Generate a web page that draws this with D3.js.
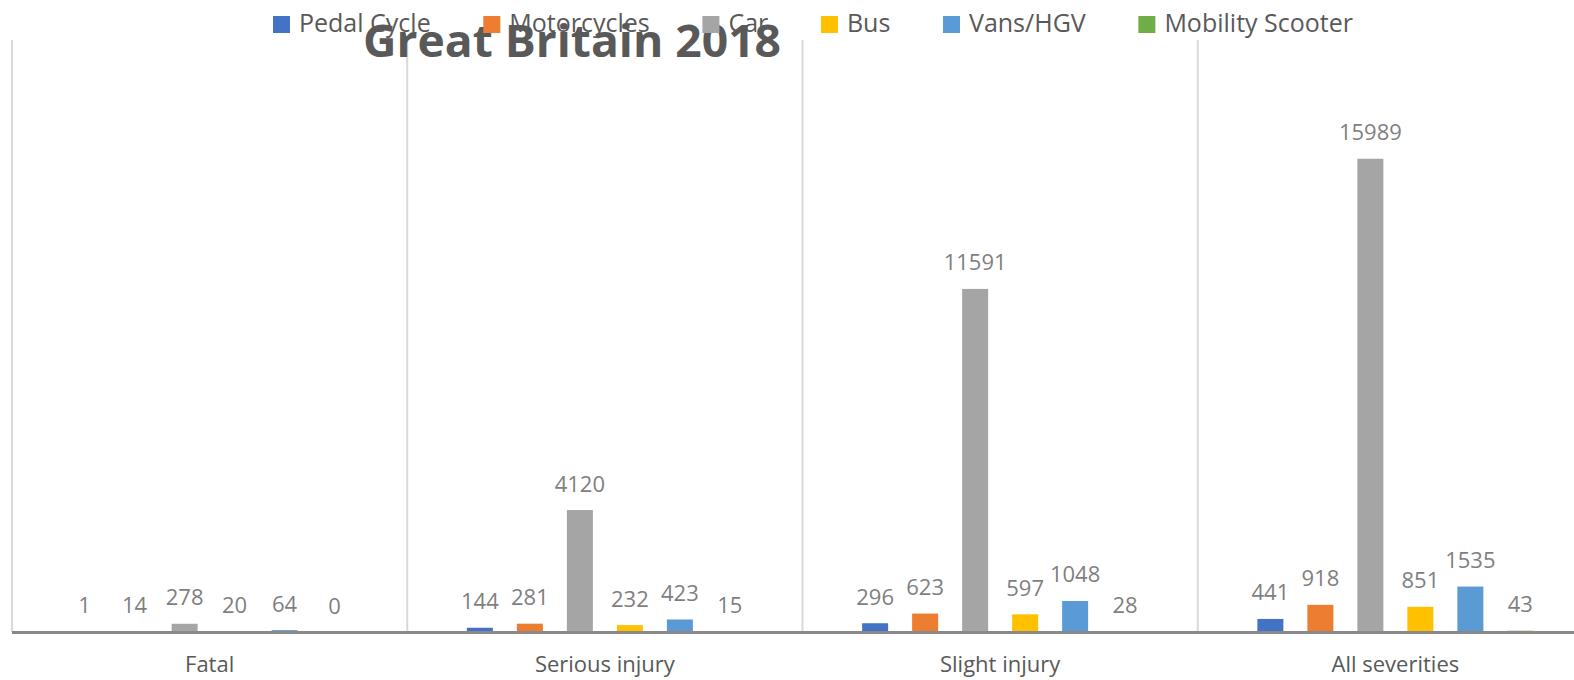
<!DOCTYPE html>
<html lang="en">
<head>
<meta charset="utf-8">
<title>Great Britain 2018</title>
<script src="https://d3js.org/d3.v7.min.js"></script>
<style>
  body { margin: 0; background: #fff; }
  text { font-family: "Open Sans", sans-serif; }
</style>
</head>
<body>
<div id="chart"></div>
<script>
// data
var categories = ["Fatal", "Serious injury", "Slight injury", "All severities"];
var series = ["Pedal Cycle", "Motorcycles", "Car", "Bus", "Vans/HGV", "Mobility Scooter"];
var colors = ["#4472C4", "#ED7D31", "#A5A5A5", "#FFC000", "#5B9BD5", "#70AD47"];
var pedalCycle = [1, 144, 296, 441];
var motorcycles = [14, 281, 623, 918];
var car = [278, 4120, 11591, 15989];
var bus = [20, 232, 597, 851];
var vansHgv = [64, 423, 1048, 1535];
var mobilityScooter = [0, 15, 28, 43];
var yTicks = [0, 20000];

var values = [pedalCycle, motorcycles, car, bus, vansHgv, mobilityScooter];

var W = 1574, H = 680;
var plot = {left: 12, right: 1593, top: 40, bottom: 632};

var svg = d3.select("#chart").append("svg")
    .attr("width", W)
    .attr("height", H);

var x0 = d3.scaleBand()
    .domain(categories)
    .range([plot.left, plot.right]);

var x1 = d3.scaleBand()
    .domain(series)
    .range([0, 300])
    .paddingInner(0.48)
    .paddingOuter(0.24);
var groupOffset = (x0.bandwidth() - 300) / 2;

var y = d3.scaleLinear()
    .domain(d3.extent(yTicks))
    .range([plot.bottom, plot.top]);

// vertical separators between categories
svg.append("g")
  .selectAll("line")
  .data(categories)
  .join("line")
    .attr("x1", function(d) { return x0(d); })
    .attr("x2", function(d) { return x0(d); })
    .attr("y1", plot.top)
    .attr("y2", plot.bottom)
    .style("stroke", "#D9D9D9")
    .style("stroke-width", 2);

// bars
var rows = [];
categories.forEach(function(c, i) {
  series.forEach(function(s, j) {
    rows.push({cat: c, ser: s, idx: j, value: values[j][i]});
  });
});

svg.append("g")
  .selectAll("rect")
  .data(rows)
  .join("rect")
    .attr("x", function(d) { return x0(d.cat) + groupOffset + x1(d.ser); })
    .attr("y", function(d) { return y(d.value); })
    .attr("width", x1.bandwidth())
    .attr("height", function(d) { return y(0) - y(d.value); })
    .style("fill", function(d) { return colors[d.idx]; });

// data labels
svg.append("g")
  .selectAll("text")
  .data(rows)
  .join("text")
    .attr("x", function(d) { return x0(d.cat) + groupOffset + x1(d.ser) + x1.bandwidth() / 2; })
    .attr("y", function(d) { return y(d.value) - 18.5; })
    .attr("text-anchor", "middle")
    .style("font-size", "22px")
    .style("fill", "#7F7F7F")
    .text(function(d) { return d.value; });

// baseline
svg.append("line")
    .attr("x1", plot.left)
    .attr("x2", plot.right)
    .attr("y1", y(0) + 0.5)
    .attr("y2", y(0) + 0.5)
    .style("stroke", "#898989")
    .style("stroke-width", 3);

// category labels
var xAxis = d3.axisBottom(x0).tickSize(0).tickPadding(0);
var gx = svg.append("g")
    .attr("transform", "translate(0," + 672 + ")")
    .call(xAxis);
gx.select(".domain").remove();
gx.selectAll("text")
    .attr("dy", 0)
    .attr("y", 0)
    .style("font-family", "'Open Sans', sans-serif")
    .style("font-size", "22px")
    .style("fill", "#595959");

// title
svg.append("text")
    .attr("x", 363)
    .attr("y", 57)
    .attr("textLength", 418)
    .attr("lengthAdjust", "spacingAndGlyphs")
    .style("font-size", "45px")
    .style("font-weight", "bold")
    .style("fill", "#595959")
    .text("Great Britain 2018");

// legend, laid out left to right between 273 and 1353
var legend = svg.append("g");
var items = legend.selectAll("g")
  .data(series)
  .join("g");
items.append("rect")
    .attr("width", 17)
    .attr("height", 17)
    .attr("y", 16)
    .style("fill", function(d, i) { return colors[i]; });
items.append("text")
    .attr("x", 26)
    .attr("y", 32.3)
    .style("font-size", "25px")
    .style("fill", "#595959")
    .text(function(d) { return d; });

var widths = [];
items.each(function() { widths.push(26 + d3.select(this).select("text").node().getComputedTextLength()); });
var gap = (1353 - 273 - d3.sum(widths)) / (series.length - 1);
var pos = 273;
items.attr("transform", function(d, i) {
  var t = "translate(" + pos + ",0)";
  pos += widths[i] + gap;
  return t;
});
</script>
</body>
</html>
